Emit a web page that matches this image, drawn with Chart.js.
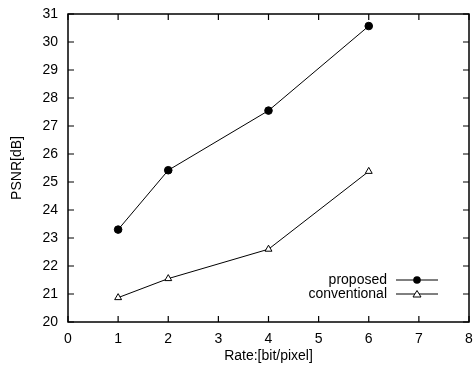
<!DOCTYPE html>
<html>
<head>
<meta charset="utf-8">
<script src="https://cdn.jsdelivr.net/npm/chart.js@4"></script>
<style>
  html, body { margin: 0; padding: 0; background: #fff; }
  #wrap { width: 474px; height: 369px; }
</style>
</head>
<body>
<div id="wrap"><canvas id="psnrChart" width="474" height="369"></canvas></div>
<script>
// Data
const rates = [1, 2, 4, 6];
const proposed = [23.3, 25.42, 27.55, 30.57];
const conventional = [20.87, 21.55, 22.6, 25.38];
const xTicks = [0, 1, 2, 3, 4, 5, 6, 7, 8];
const yTicks = [20, 21, 22, 23, 24, 25, 26, 27, 28, 29, 30, 31];
const seriesNames = ["proposed", "conventional"];

const FONT = "'Liberation Sans', Arial, sans-serif";

// Frame + inward ticks on all four sides
const framePlugin = {
  id: "frame",
  afterDatasetsDraw(chart) {
    const { ctx, chartArea: a, scales: { x, y } } = chart;
    ctx.save();
    ctx.strokeStyle = "#000";
    ctx.lineWidth = 1.5;
    ctx.strokeRect(a.left, a.top, a.right - a.left, a.bottom - a.top);
    ctx.lineWidth = 1.2;
    const len = 6;
    ctx.beginPath();
    xTicks.forEach(v => {
      const px = x.getPixelForValue(v);
      ctx.moveTo(px, a.bottom); ctx.lineTo(px, a.bottom - len);
      ctx.moveTo(px, a.top); ctx.lineTo(px, a.top + len);
    });
    yTicks.forEach(v => {
      const py = y.getPixelForValue(v);
      ctx.moveTo(a.left, py); ctx.lineTo(a.left + len, py);
      ctx.moveTo(a.right, py); ctx.lineTo(a.right - len, py);
    });
    ctx.stroke();
    ctx.restore();
  }
};

// Legend in the lower right, gnuplot style
const legendPlugin = {
  id: "keyBox",
  afterDatasetsDraw(chart) {
    const { ctx, chartArea: a } = chart;
    ctx.save();
    ctx.font = "14px " + FONT;
    ctx.fillStyle = "#000";
    ctx.textAlign = "right";
    ctx.textBaseline = "middle";
    chart.data.datasets.forEach((ds, i) => {
      const yy = a.bottom - 42 + i * 14;
      const textRight = a.left + 319;
      const lineStart = a.left + 328;
      const lineEnd = a.left + 370;
      const mid = (lineStart + lineEnd) / 2;
      ctx.fillText(ds.label, textRight, yy);
      ctx.strokeStyle = "#000";
      ctx.lineWidth = 1;
      ctx.beginPath();
      ctx.moveTo(lineStart, yy); ctx.lineTo(lineEnd, yy);
      ctx.stroke();
      if (ds.pointStyle === "circle") {
        ctx.beginPath();
        ctx.arc(mid, yy, 3.8, 0, Math.PI * 2);
        ctx.fill();
      } else {
        ctx.beginPath();
        ctx.moveTo(mid, yy - 3.5);
        ctx.lineTo(mid + 4, yy + 3);
        ctx.lineTo(mid - 4, yy + 3);
        ctx.closePath();
        ctx.fillStyle = "#fff";
        ctx.fill();
        ctx.stroke();
        ctx.fillStyle = "#000";
      }
    });
    ctx.restore();
  }
};

new Chart(document.getElementById("psnrChart"), {
  type: "scatter",
  data: {
    datasets: [
      {
        label: seriesNames[0],
        data: rates.map((r, i) => ({ x: r, y: proposed[i] })),
        showLine: true,
        borderColor: "#000",
        borderWidth: 1,
        pointStyle: "circle",
        pointRadius: 3.8,
        pointBackgroundColor: "#000",
        pointBorderColor: "#000",
        tension: 0
      },
      {
        label: seriesNames[1],
        data: rates.map((r, i) => ({ x: r, y: conventional[i] })),
        showLine: true,
        borderColor: "#000",
        borderWidth: 1,
        pointStyle: "triangle",
        pointRadius: 4,
        pointBackgroundColor: "#fff",
        pointBorderColor: "#000",
        pointBorderWidth: 1,
        tension: 0
      }
    ]
  },
  options: {
    responsive: false,
    animation: false,
    layout: { padding: { top: 14, right: 1, left: 0, bottom: 0 } },
    plugins: {
      legend: { display: false },
      tooltip: { enabled: false }
    },
    scales: {
      x: {
        type: "linear",
        min: 0,
        max: 8,
        afterBuildTicks: s => { s.ticks = xTicks.map(v => ({ value: v })); },
        afterFit: s => { s.height = 47; s.paddingLeft = 0; s.paddingRight = 0; },
        grid: { display: false, drawTicks: false },
        border: { display: false },
        ticks: { color: "#000", font: { family: FONT, size: 14 }, padding: 9, maxRotation: 0 },
        title: { display: true, text: "Rate:[bit/pixel]", color: "#000", font: { family: FONT, size: 14 }, padding: { top: 3 } }
      },
      y: {
        type: "linear",
        min: 20,
        max: 31,
        afterBuildTicks: s => { s.ticks = yTicks.map(v => ({ value: v })); },
        afterFit: s => { s.width = 68; s.paddingTop = 0; s.paddingBottom = 0; },
        grid: { display: false, drawTicks: false },
        border: { display: false },
        ticks: { color: "#000", font: { family: FONT, size: 14 }, padding: 10 },
        title: { display: true, text: "PSNR[dB]", color: "#000", font: { family: FONT, size: 14 }, padding: { top: 9, bottom: 4 } }
      }
    }
  },
  plugins: [framePlugin, legendPlugin]
});
</script>
</body>
</html>
